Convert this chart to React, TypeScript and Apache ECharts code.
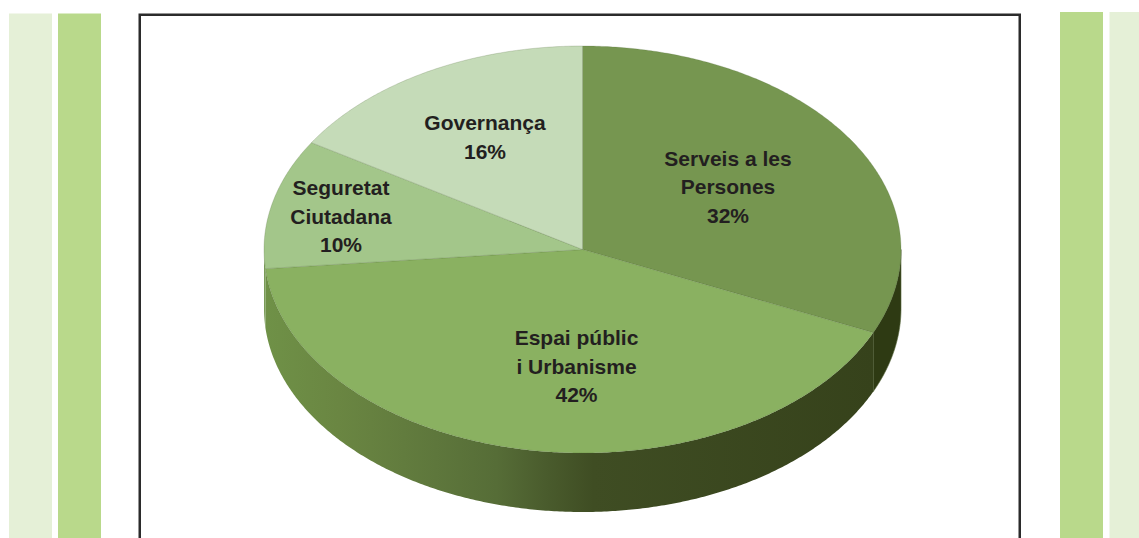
import React, { useEffect, useRef } from "react";
import * as echarts from "echarts";

const categories = ["Serveis a les\nPersones", "Espai públic\ni Urbanisme", "Seguretat\nCiutadana", "Governança"];
const values = [31.7, 41.8, 10.3, 16.2];

const topColors = ["#769650", "#8AB161", "#A3C68A", "#C5DBB8"];
const sideColors: any[] = [
  "#2E3A13",
  new echarts.graphic.LinearGradient(0, 0, 1, 0, [
    { offset: 0, color: "#6F9147" },
    { offset: 0.12, color: "#6A8642" },
    { offset: 0.28, color: "#5E773C" },
    { offset: 0.38, color: "#566D37" },
    { offset: 0.46, color: "#4A5C2D" },
    { offset: 0.54, color: "#3F4D23" },
    { offset: 1, color: "#36421B" },
  ]),
  "#7A9C58",
  "#7A9C58",
];
const labelCenters = [
  [728, 186.5],
  [576.5, 366],
  [341, 216],
  [485, 137],
];

const CX = 582.5;
const CY = 249.5;
const RX = 318.5;
const RY = 203.5;
const DEPTH = 59;

const total = values.reduce((a, b) => a + b, 0);
const startDeg = (i: number) => (values.slice(0, i).reduce((a, b) => a + b, 0) / total) * 360;

const pt = (deg: number, dy = 0): number[] => {
  const r = (deg * Math.PI) / 180;
  return [CX + RX * Math.sin(r), CY - RY * Math.cos(r) + dy];
};
const arc = (a: number, b: number, dy = 0): number[][] => {
  const n = Math.max(2, Math.ceil((b - a) * 2));
  const out: number[][] = [];
  for (let k = 0; k <= n; k++) out.push(pt(a + ((b - a) * k) / n, dy));
  return out;
};

const renderSide = (_p: any, api: any) => {
  const i = _p.dataIndex;
  const a = Math.max(startDeg(i), 90);
  const b = Math.min(startDeg(i) + (api.value(0) / total) * 360, 270);
  if (b <= a) return { type: "group", children: [] };
  return {
    type: "polygon",
    shape: { points: [...arc(a, b), ...arc(a, b, DEPTH).reverse()] },
    style: { fill: sideColors[i], stroke: i === 0 ? "#55663A" : "none", lineWidth: i === 0 ? 0.6 : 0 },
  };
};

const renderTop = (p: any, api: any) => {
  const i = p.dataIndex;
  const a = startDeg(i);
  const b = a + (api.value(0) / total) * 360;
  return {
    type: "polygon",
    shape: { points: [[CX, CY], ...arc(a, b)] },
    style: { fill: topColors[i], stroke: "rgba(70,95,50,0.35)", lineWidth: 0.6 },
  };
};

const renderLabel = (p: any, api: any) => {
  const i = p.dataIndex;
  return {
    type: "text",
    style: {
      text: `${categories[i]}\n${Math.round(api.value(0))}%`,
      x: labelCenters[i][0],
      y: labelCenters[i][1],
      align: "center",
      verticalAlign: "middle",
      fontFamily: "Liberation Sans",
      fontWeight: "bold",
      fontSize: 21,
      lineHeight: 28.5,
      fill: "#231F20",
    },
  };
};

const stripes = [
  { x: 9, y: 13.5, w: 43, c: "#E5F0D7" },
  { x: 58, y: 13.5, w: 43, c: "#B9D98B" },
  { x: 1060, y: 12, w: 43, c: "#B9D98B" },
  { x: 1109.5, y: 12, w: 29.5, c: "#E5F0D7" },
];

export default function App() {
  const ref = useRef<HTMLDivElement>(null);
  useEffect(() => {
    document.body.style.margin = "0";
    const chart = echarts.init(ref.current!, null, { renderer: "svg" });
    const data = values.map((v) => [v]);
    chart.setOption({
      animation: false,
      backgroundColor: "#FFFFFF",
      graphic: [
        ...stripes.map((s) => ({
          type: "rect",
          shape: { x: s.x, y: s.y, width: s.w, height: 600 },
          style: { fill: s.c },
        })),
        {
          type: "rect",
          shape: { x: 139.75, y: 14.75, width: 880, height: 600 },
          style: { fill: "none", stroke: "#2B2B2B", lineWidth: 2.5 },
        },
      ],
      series: [
        { type: "custom", coordinateSystem: "none", silent: true, data, renderItem: renderSide, z: 3 },
        { type: "custom", coordinateSystem: "none", silent: true, data, renderItem: renderTop, z: 4 },
        { type: "custom", coordinateSystem: "none", silent: true, data, renderItem: renderLabel, z: 5 },
      ],
    });
    return () => chart.dispose();
  }, []);
  return <div ref={ref} style={{ position: "absolute", left: 0, top: 0, width: 1139, height: 538 }} />;
}
